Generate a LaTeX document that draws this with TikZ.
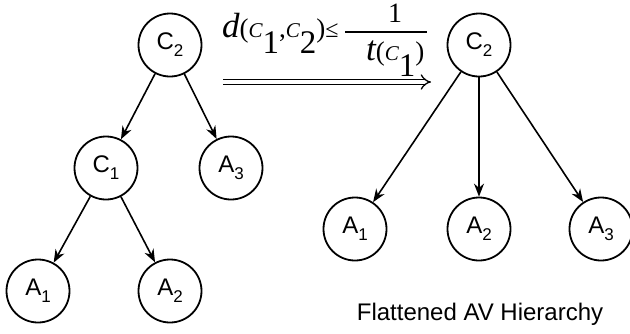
\documentclass[tikz,border=0pt]{standalone}
\usepackage{fontspec}
\setmainfont{Liberation Sans}
\newfontfamily\fml{Liberation Serif}
\usetikzlibrary{arrows.meta}
\newcommand\fsz[1]{\fontsize{#1}{#1}\selectfont}
\newcommand\lab[2]{#1\raisebox{-7pt}{\fsz{17}#2}}
\begin{document}
\begin{tikzpicture}[x=1pt,y=-1pt,
  vtx/.style={circle,draw,line width=1.8pt,minimum size=63pt,inner sep=0pt,font=\fsz{24}},
  edge/.style={line width=1.6pt,-{Stealth[length=13pt,width=10pt]}},
  txt/.style={inner sep=0pt}]
\useasboundingbox (0,0) rectangle (630,333);
% left tree
\node[vtx] (lc2) at (170,45) {\lab{C}{2}};
\node[vtx] (lc1) at (106,168) {\lab{C}{1}};
\node[vtx] (la3) at (231,168) {\lab{A}{3}};
\node[vtx] (la1) at (38,291) {\lab{A}{1}};
\node[vtx] (la2) at (170,291) {\lab{A}{2}};
\draw[edge] (lc2) -- (lc1);
\draw[edge] (lc2) -- (la3);
\draw[edge] (lc1) -- (la1);
\draw[edge] (lc1) -- (la2);
% right tree
\node[vtx] (rc2) at (479,45) {\lab{C}{2}};
\node[vtx] (ra1) at (355,229) {\lab{A}{1}};
\node[vtx] (ra2) at (479,229) {\lab{A}{2}};
\node[vtx] (ra3) at (601,229) {\lab{A}{3}};
\draw[edge] (rc2) -- (ra1);
\draw[edge] (rc2) -- (ra2);
\draw[edge] (rc2) -- (ra3);
% formula
\node[txt,anchor=base west] (lhs) at (222,37) {\fml{\fsz{35}\itshape d}{\fsz{27}(}{\fsz{21}\itshape C}\raisebox{-16pt}{\fsz{33}1}{\fsz{27},}{\fsz{21}\itshape C}\raisebox{-16pt}{\fsz{33}2}{\fsz{27})}{\fsz{24}≤}};
\node[txt,anchor=base] (num) at (395,22) {\fml\fsz{28}1};
\node[txt,fill,minimum width=82pt,minimum height=1.2pt] (bar) at (386,32) {};
\node[txt,anchor=base west] (den) at (366,60) {\fml{\fsz{35}\itshape t}{\fsz{27}(}{\fsz{21}\itshape C}\raisebox{-16pt}{\fsz{33}1}{\fsz{27})}};
% transform arrow
\coordinate (as) at (223,82);
\coordinate (ae) at (431,82);
\draw[line width=1.3pt,double,double distance=4pt,-{Implies}] (as) -- (ae);
% caption
\node[txt,anchor=base] (cap) at (480,320) {\fsz{24}Flattened AV Hierarchy};
\end{tikzpicture}
\end{document}
